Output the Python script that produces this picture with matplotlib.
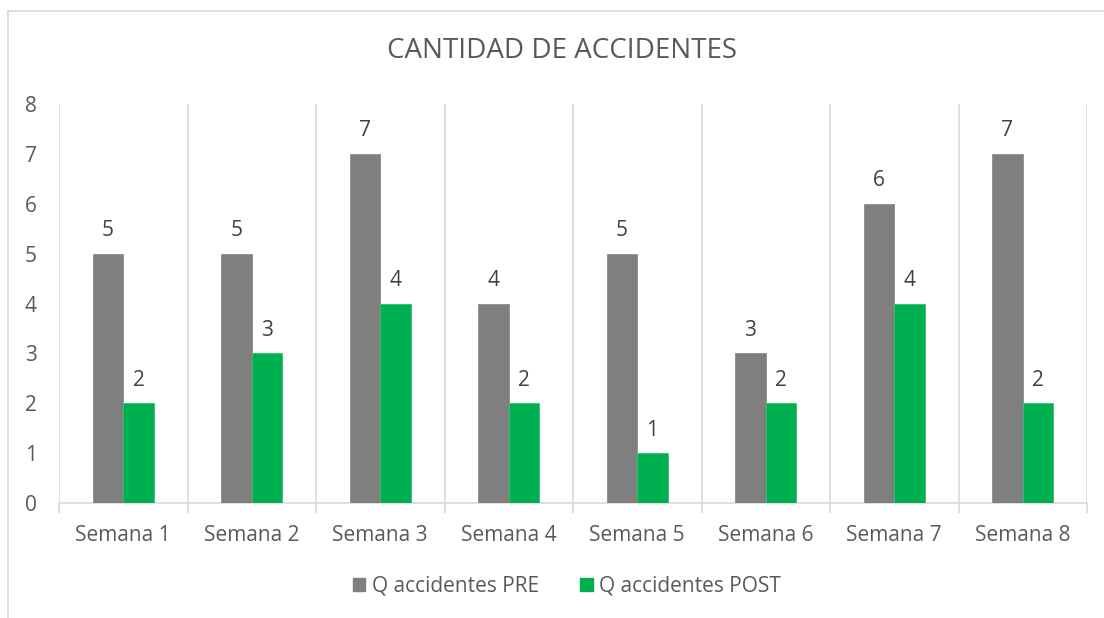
import numpy as np
import matplotlib.pyplot as plt
from matplotlib.lines import Line2D

categories = ["Semana 1", "Semana 2", "Semana 3", "Semana 4",
              "Semana 5", "Semana 6", "Semana 7", "Semana 8"]
pre_vals = [5, 5, 7, 4, 5, 3, 6, 7]
post_vals = [2, 3, 4, 2, 1, 2, 4, 2]
series_names = ["Q accidentes PRE", "Q accidentes POST"]
y_ticks = [0, 1, 2, 3, 4, 5, 6, 7, 8]

col_pre = "#7f7f7f"
col_post = "#00b050"
txt_col = "#595959"
grid_col = "#d9d9d9"
fs = 15

plt.rcParams['font.family'] = ['Open Sans', 'DejaVu Sans']

fig = plt.figure(figsize=(11.04, 6.18), dpi=100)
ax = fig.add_axes([59 / 1104, 1 - 503 / 618, (1087 - 59) / 1104, (503 - 104) / 618])

x = np.arange(len(categories))
w = 0.238
b1 = ax.bar(x - w / 2, pre_vals, w, color=col_pre, edgecolor="#8c8c8c", linewidth=0.6, zorder=3)
b2 = ax.bar(x + w / 2, post_vals, w, color=col_post, edgecolor="#33c070", linewidth=0.6, zorder=3)

for bars in (b1, b2):
    for r in bars:
        ax.annotate(f"{int(r.get_height())}", (r.get_x() + r.get_width() / 2, r.get_height()),
                    xytext=(0, 9), textcoords="offset points", ha="center", va="bottom",
                    fontsize=fs, color="#404040")

ax.set_xlim(-0.5, len(categories) - 0.5)
ax.set_ylim(0, 8)
ax.set_yticks(y_ticks)
ax.set_yticklabels([str(t) for t in y_ticks], fontsize=fs, color=txt_col)
ax.tick_params(axis="y", length=0, pad=16)

# category boundaries: gridlines + tick marks
bounds = np.arange(len(categories) + 1) - 0.5
for b in bounds:
    ax.axvline(b, color=grid_col, linewidth=1.2, zorder=1)
ax.set_xticks(bounds, minor=True)
ax.tick_params(axis="x", which="minor", length=7, color=grid_col, width=1.2)
ax.set_xticks(x)
ax.set_xticklabels(categories, fontsize=fs, color=txt_col)
ax.tick_params(axis="x", which="major", length=0, pad=16)

for s in ["top", "right", "left"]:
    ax.spines[s].set_visible(False)
ax.spines["bottom"].set_color(grid_col)
ax.spines["bottom"].set_linewidth(1.2)

fig.text(0.509, 1 - 51 / 618, "CANTIDAD DE ACCIDENTES", ha="center", va="center",
         fontsize=20, color=txt_col)

handles = [plt.Rectangle((0, 0), 1, 1, color=col_pre), plt.Rectangle((0, 0), 1, 1, color=col_post)]
fig.legend(handles, series_names, loc="center", bbox_to_anchor=(567 / 1104, 1 - 586 / 618),
           ncol=2, frameon=False, fontsize=fs, labelcolor=txt_col,
           handlelength=0.6, handleheight=0.6, handletextpad=0.3, columnspacing=2.0)

# outer chart frame (top and left edges visible)
fig.add_artist(Line2D([8 / 1104, 1], [1 - 11 / 618, 1 - 11 / 618], color=grid_col, linewidth=1.2,
                      transform=fig.transFigure))
fig.add_artist(Line2D([8 / 1104, 8 / 1104], [0, 1 - 11 / 618], color=grid_col, linewidth=1.2,
                      transform=fig.transFigure))

fig.savefig("out.png", dpi=100)
